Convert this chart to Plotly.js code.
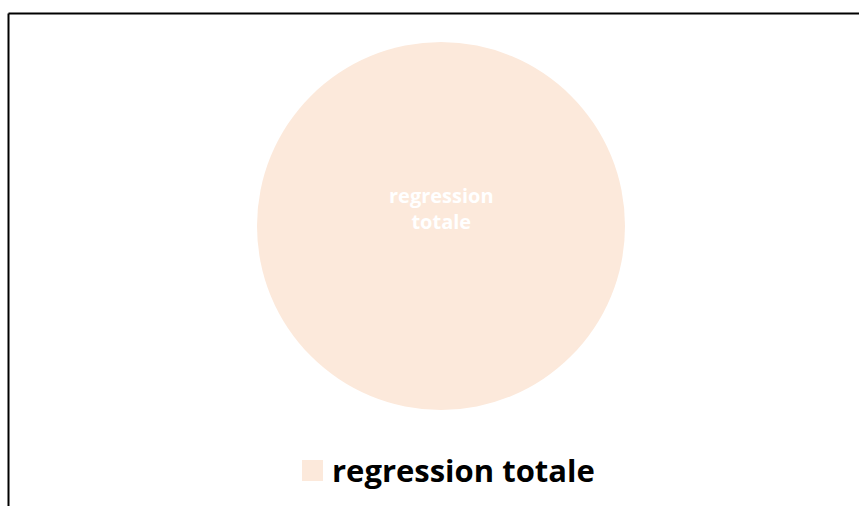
<!DOCTYPE html>
<html>
<head>
<meta charset="utf-8">
<script src="https://cdn.plot.ly/plotly-3.0.1.min.js"></script>
<style>
  html, body { margin: 0; padding: 0; background: #ffffff; }
  #chart { width: 859px; height: 506px; }
</style>
</head>
<body>
<div id="chart"></div>
<script>
// One-category pie: the whole circle is a single slice
const categories = ["regression totale"];
const values = [1];
const sliceColors = ["#FCE9DB"];

const W = 859, H = 506;
const px = x => x / W;           // pixel -> paper x
const py = y => 1 - y / H;       // pixel -> paper y (from top)

const trace = {
  type: "pie",
  labels: categories,
  values: values,
  marker: { colors: sliceColors, line: { width: 0 } },
  textinfo: "none",
  hoverinfo: "label+percent",
  sort: false,
  showlegend: false,
  domain: { x: [px(257), px(625)], y: [py(410), py(42)] }
};

const layout = {
  width: W,
  height: H,
  margin: { l: 0, r: 0, t: 0, b: 0 },
  paper_bgcolor: "#ffffff",
  showlegend: false,
  font: { family: "'Open Sans', sans-serif" },
  shapes: [
    // chart frame (left and top edges)
    { type: "line", xref: "paper", yref: "paper", x0: px(8.5), x1: px(8.5), y0: py(13.5), y1: 0,
      line: { color: "#000000", width: 2 } },
    { type: "line", xref: "paper", yref: "paper", x0: px(8.5), x1: 1, y0: py(13.5), y1: py(13.5),
      line: { color: "#000000", width: 2 } },
    // legend swatch
    { type: "rect", xref: "paper", yref: "paper", x0: px(302), x1: px(323), y0: py(481), y1: py(460),
      fillcolor: sliceColors[0], line: { width: 0 } }
  ],
  annotations: [
    // slice label
    { xref: "paper", yref: "paper", x: px(441), y: py(208), xanchor: "center", yanchor: "middle",
      text: categories[0].replace(" ", "<br>"), showarrow: false,
      font: { color: "#ffffff", size: 20, family: "'Open Sans', sans-serif", weight: "bold" } },
    // legend text
    { xref: "paper", yref: "paper", x: px(330), y: py(470), xanchor: "left", yanchor: "middle",
      text: "<b>" + categories[0] + "</b>", showarrow: false,
      font: { color: "#000000", size: 31, family: "'Open Sans', sans-serif" } }
  ]
};

Plotly.newPlot("chart", [trace], layout, { displayModeBar: false, staticPlot: true });
</script>
</body>
</html>
